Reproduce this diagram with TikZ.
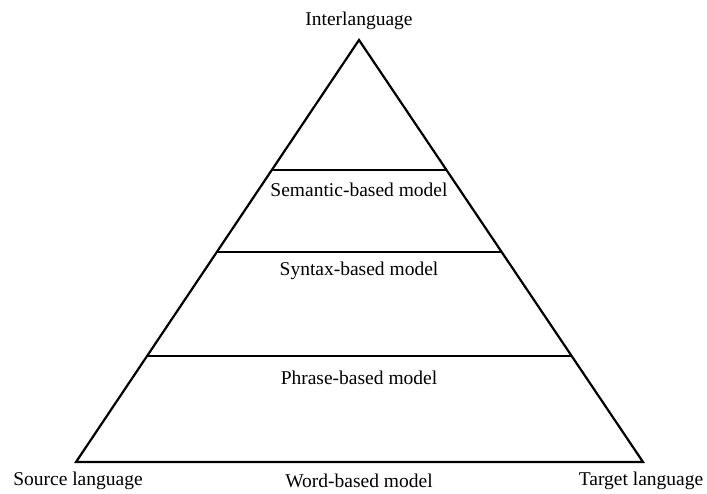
\documentclass[tikz,border=0pt]{standalone}
\usepackage{fontspec}
\setmainfont{Liberation Serif}
\usetikzlibrary{calc}

\begin{document}
\begin{tikzpicture}[x=1pt,y=-1pt]
          \useasboundingbox (0,0) rectangle (707,493);
          \coordinate (top) at (359,40);
          \coordinate (sl) at (76,462);
          \coordinate (tl) at (643,462);

          \draw [line width=2.2pt, line join=miter] (top) -- (sl) -- (tl) -- cycle;

          \coordinate (s1) at ($(top)!0.308!(sl)$);
          \coordinate (t1) at ($(top)!0.308!(tl)$);
          \coordinate (s2) at ($(top)!0.502!(sl)$);
          \coordinate (t2) at ($(top)!0.502!(tl)$);
          \coordinate (s3) at ($(top)!0.749!(sl)$);
          \coordinate (t3) at ($(top)!0.749!(tl)$);
          \draw [line width=1.4pt] (s1) -- (t1);
          \draw [line width=1.4pt] (s2) -- (t2);
          \draw [line width=1.4pt] (s3) -- (t3);

          \begin{scope}[every node/.style={font=\fontsize{19.5}{22}\selectfont, inner sep=0pt}]
            \node (inter) at (359,21) {Interlanguage};
            \node (sem) at (359,190) {Semantic-based model};
            \node (syn) at (359,271) {Syntax-based model};
            \node (phr) at (359,378) {Phrase-based model};
            \node (src) at (78,481) {Source language};
            \node (word) at (359,481) {Word-based model};
            \node (tgt) at (641,481) {Target language};
          \end{scope}
        \end{tikzpicture}
\end{document}
